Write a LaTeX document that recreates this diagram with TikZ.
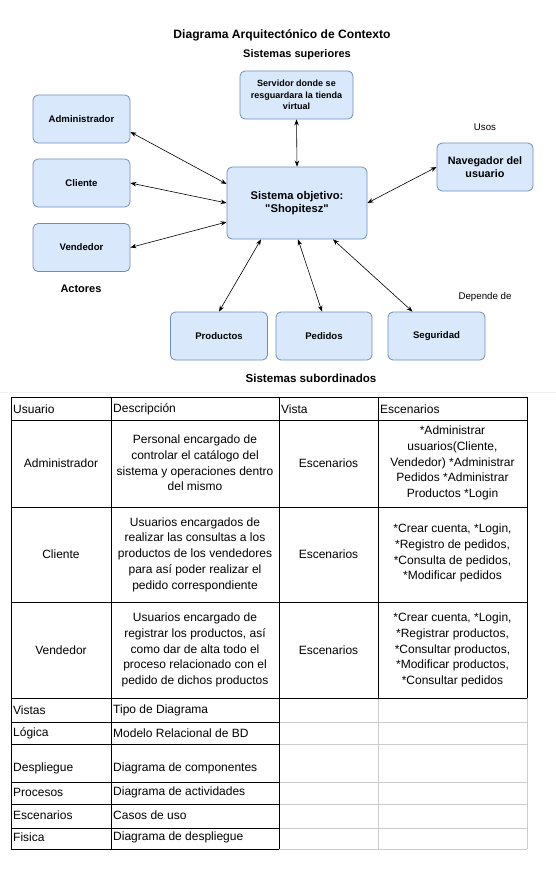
\documentclass[tikz,border=0pt]{standalone}
\usepackage{fontspec}
\setmainfont{Liberation Sans}
\usetikzlibrary{arrows.meta}
\definecolor{boxfill}{HTML}{DAE8FC}
\definecolor{boxdraw}{HTML}{6C8EBF}
\definecolor{gridgray}{HTML}{CCCCCC}
\begin{document}
\begin{tikzpicture}[x=1pt,y=-1pt,
  sysbox/.style={draw=boxdraw,fill=boxfill,rounded corners=5pt,line width=0.8pt,
    align=center,font=\bfseries\fontsize{9.6}{11.5}\selectfont,inner sep=2pt},
  bigtext/.style={font=\bfseries\fontsize{10.8}{13}\selectfont},
  link/.style={{Stealth[length=6pt,width=4.5pt]}-{Stealth[length=6pt,width=4.5pt]},line width=0.6pt},
  lbl/.style={inner sep=0pt,font=\bfseries\fontsize{11}{13}\selectfont},
  small/.style={inner sep=0pt,font=\fontsize{9.7}{11}\selectfont},
  cell/.style={inner sep=0pt,align=center,font=\fontsize{12}{15.8}\selectfont},
  lcell/.style={inner sep=0pt,anchor=west,font=\fontsize{12}{15.8}\selectfont},
  blk/.style={line width=0.9pt,black},
  gry/.style={line width=0.9pt,gridgray}]
\useasboundingbox (0,0) rectangle (556,871);
\fill[white] (0,0) rectangle (556,871);

% ---------- diagram ----------
\node[lbl,font=\bfseries\fontsize{12.1}{14}\selectfont] (title) at (282,35) {Diagrama Arquitectónico de Contexto};
\node[lbl] (sup) at (297,55) {Sistemas superiores};
\node[lbl] (act) at (81,289) {Actores};
\node[lbl,font=\bfseries\fontsize{11.6}{13}\selectfont] (sub) at (311,378) {Sistemas subordinados};
\node[small] (usos) at (485,127) {Usos};
\node[small] (dep) at (485,297) {Depende de};

\node[sysbox,font=\bfseries\fontsize{9}{11.3}\selectfont,minimum width=113pt,minimum height=48pt] (serv) at (296.5,95) {Servidor donde se\\resguardara la tienda\\virtual};
\node[sysbox,minimum width=97pt,minimum height=48pt] (admin) at (81.5,119) {Administrador};
\node[sysbox,minimum width=97pt,minimum height=48pt] (cli) at (81.5,183) {Cliente};
\node[sysbox,minimum width=97pt,minimum height=48pt] (vend) at (81.5,247.5) {Vendedor};
\node[sysbox,bigtext,font=\bfseries\fontsize{11.2}{13.5}\selectfont,minimum width=140pt,minimum height=72pt] (sis) at (297,203) {Sistema objetivo:\\\textquotedbl Shopitesz\textquotedbl};
\node[sysbox,bigtext,minimum width=96pt,minimum height=48pt] (nav) at (485,167) {Navegador del\\usuario};
\node[sysbox,minimum width=97pt,minimum height=48pt] (prod) at (219,336) {Productos};
\node[sysbox,minimum width=96pt,minimum height=48pt] (ped) at (324,336) {Pedidos};
\node[sysbox,minimum width=97pt,minimum height=48pt] (seg) at (436.5,336) {Seguridad};

\draw[link] ([yshift=-13pt]admin.east) -- ([yshift=19pt]sis.west);
\draw[link] (cli.east) -- (sis.west);
\draw[link] (vend.east) -- ([yshift=-19pt]sis.west);
\draw[link] (serv.south) -- (sis.north);
\draw[link] (nav.west) -- (sis.east);
\draw[link] (prod.north) -- ([xshift=-36pt]sis.south);
\draw[link] ([xshift=-2pt]ped.north) -- ([xshift=1pt]sis.south);
\draw[link] ([xshift=-24pt]seg.north) -- ([xshift=36pt]sis.south);

% faint separator
\draw[line width=0.8pt,black!6] (0,392) -- (556,392);

% ---------- table ----------
\foreach \yy in {722,744,782,804,828,849} \draw[gry] (279,\yy) -- (527,\yy);
\draw[gry] (378,698) -- (378,849);
\draw[gry] (527,698) -- (527,849);
\foreach \yy in {397,420,507,602,698} \draw[blk] (11,\yy) -- (527,\yy);
\foreach \yy in {722,744,782,804,828,849} \draw[blk] (11,\yy) -- (279,\yy);
\foreach \xx in {11,111,279} \draw[blk] (\xx,397) -- (\xx,849);
\foreach \xx in {378,527} \draw[blk] (\xx,397) -- (\xx,698);

% header
\node[lcell] (h1) at (13,409) {Usuario};
\node[lcell] (h2) at (113,409) {Descripción};
\node[lcell] (h3) at (281,409) {Vista};
\node[lcell] (h4) at (380,409) {Escenarios};

% Administrador row
\node[cell] (a1) at (61,463) {Administrador};
\node[cell] (a2) at (195,463) {Personal encargado de\\controlar el catálogo del\\sistema y operaciones dentro\\del mismo};
\node[cell] (a3) at (328.5,463) {Escenarios};
\node[cell] (a4) at (452.5,463) {*Administrar\\usuarios(Cliente,\\Vendedor) *Administrar\\Pedidos *Administrar\\Productos *Login};

% Cliente row
\node[cell] (c1) at (61,554.5) {Cliente};
\node[cell] (c2) at (195,554.5) {Usuarios encargados de\\realizar las consultas a los\\productos de los vendedores\\para así poder realizar el\\pedido correspondiente};
\node[cell] (c3) at (328.5,554.5) {Escenarios};
\node[cell] (c4) at (452.5,553) {*Crear cuenta, *Login,\\*Registro de pedidos,\\*Consulta de pedidos,\\*Modificar pedidos};

% Vendedor row
\node[cell] (v1) at (61,650) {Vendedor};
\node[cell] (v2) at (195,650) {Usuarios encargado de\\registrar los productos, así\\como dar de alta todo el\\proceso relacionado con el\\pedido de dichos productos};
\node[cell] (v3) at (328.5,650) {Escenarios};
\node[cell] (v4) at (452.5,650) {*Crear cuenta, *Login,\\*Registrar productos,\\*Consultar productos,\\*Modificar productos,\\*Consultar pedidos};

% lower rows
\node[lcell] (r1a) at (13,710) {Vistas};
\node[lcell] (r1b) at (113,710) {Tipo de Diagrama};
\node[lcell] (r2a) at (13,733) {Lógica};
\node[lcell] (r2b) at (113,733) {Modelo Relacional de BD};
\node[lcell] (r3a) at (13,768) {Despliegue};
\node[lcell] (r3b) at (113,768) {Diagrama de componentes};
\node[lcell] (r4a) at (13,792) {Procesos};
\node[lcell] (r4b) at (113,792) {Diagrama de actividades};
\node[lcell] (r5a) at (13,815) {Escenarios};
\node[lcell] (r5b) at (113,815) {Casos de uso};
\node[lcell] (r6a) at (13,837) {Fisica};
\node[lcell] (r6b) at (113,837) {Diagrama de despliegue};
\end{tikzpicture}
\end{document}
